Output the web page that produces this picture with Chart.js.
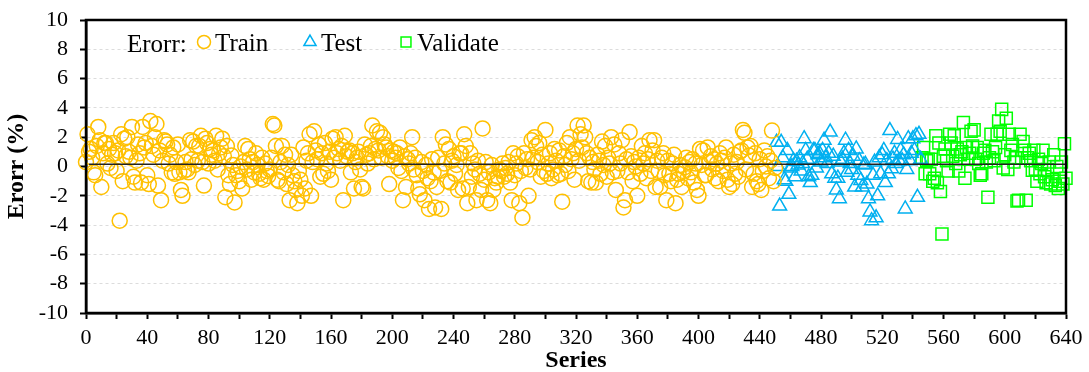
<!DOCTYPE html>
<html>
<head>
<meta charset="utf-8">
<script src="https://cdn.jsdelivr.net/npm/chart.js@4.4.1/dist/chart.umd.min.js"></script>
<style>
  html, body { margin: 0; padding: 0; background: #fff; }
  #errChart { display: block; width: 1089px; height: 372px; }
</style>
</head>
<body>
<canvas id="errChart" width="1089" height="372"></canvas>
<script>
// --- dados ---
const seriesNames = ['Train', 'Test', 'Validate'];
const seriesColors = ['#FFC000', '#00B0F0', '#00FF00'];
const seriesStart = [0, 451, 546];

const trainErr = [
  0.3, 2.2, 1.0, 1.2, 0.6, -0.4, -0.6, 1.4, 2.7, 1.8,
  -1.4, 0.9, 1.6, 1.6, 0.2, 1.2, -0.1, 0.8, 1.6, 0.9,
  -0.3, 1.1, -3.7, 2.2, -1.0, 1.9, 0.7, 2.0, 1.0, 0.6,
  2.7, -0.7, -1.1, 0.4, 1.5, 0.9, -1.1, 2.7, 1.3, 1.6,
  -0.6, -1.2, 3.1, 1.4, 0.8, 2.0, 2.9, -1.3, 1.1, -2.3,
  0.4, 1.8, 1.7, 1.5, 0.2, 0.8, -0.4, 1.3, -0.5, 0.3,
  1.5, -0.4, -1.6, -2.0, -0.3, 0.3, -0.2, -0.4, 1.8, 0.5,
  1.7, 0.1, 1.4, 0.4, 1.4, 2.1, 0.3, -1.3, 1.9, 1.6,
  0.2, 1.2, 0.8, 1.1, 0.4, 2.1, -0.2, 0.9, 1.3, 1.9,
  0.7, -2.1, 1.4, -0.6, -1.2, 0.75, 0.1, -2.45, -0.6, -0.3,
  -1.0, 0.0, -1.5, 0.3, 1.4, -0.2, 1.2, 0.5, -0.9, 0.3,
  -0.4, 0.9, 0.1, -0.5, -0.8, 0.6, -0.9, 0.2, -0.3, -0.65,
  -0.2, 0.6, 2.9, 2.8, 1.4, -0.9, -1.0, 0.3, 1.4, -0.4,
  0.8, -1.2, 0.1, -2.3, 0.8, -0.6, -1.0, -1.6, -2.5, -0.3,
  -0.9, -2.0, 1.3, -1.5, 0.4, 0.9, 2.2, -2.0, 0.3, 2.4,
  1.1, 0.5, 1.5, -0.7, 0.9, -0.5, 1.6, 0.2, -0.3, 1.0,
  -0.9, 1.9, 0.6, 2.0, 0.9, 1.2, 0.4, 1.4, -2.3, 2.1,
  0.7, 1.0, 1.1, -0.4, 0.9, -1.5, 0.3, 0.6, 1.0, -0.2,
  -1.4, -1.5, 1.5, 0.8, 0.2, 0.9, 1.4, 2.8, 0.5, 1.2,
  2.4, 1.1, 2.3, 0.6, 2.0, 1.5, 1.3, 0.7, -1.2, 1.1,
  0.4, 1.0, 0.6, 0.9, -0.1, 1.3, -0.3, -2.3, 0.7, -1.4,
  0.5, 0.2, 0.9, 2.0, -0.2, 0.6, -0.6, -1.5, -1.9, 0.3,
  -0.3, -2.3, 0.1, -0.8, -2.9, -1.0, 0.5, -0.4, -2.8, -1.4,
  0.6, -0.3, -2.9, 2.0, 0.2, 1.5, -1.0, 1.2, -1.1, 0.4,
  0.7, -0.5, 0.1, -1.6, 0.9, 0.9, -1.5, 2.2, 1.4, -2.5,
  -1.4, 0.9, -0.7, 0.2, -0.2, -2.3, 0.4, -0.5, -1.6, 2.6,
  -0.9, 0.3, -2.3, -0.4, -2.5, 0.1, -1.6, -0.8, -1.1, -0.7,
  -0.2, -0.3, 0.2, -0.7, -0.1, -0.5, 0.3, -1.1, -2.3, 0.9,
  -0.6, 0.2, 0.7, -2.5, -0.3, -3.5, 0.9, -0.1, 0.5, -2.0,
  -0.2, 1.8, 0.6, 2.0, 1.4, 0.3, 1.6, -0.7, 0.8, -0.3,
  2.5, -0.5, 0.2, 0.9, -0.8, -0.2, 1.2, 0.4, -0.6, 1.1,
  -0.5, -2.4, 0.7, 0.1, 1.6, -0.3, 2.0, 0.5, 0.9, -0.9,
  1.2, 2.8, 0.4, 2.2, 1.3, 2.8, 2.0, 0.9, -1.0, 0.6,
  -1.1, 0.3, -0.2, -1.1, 0.8, 0.4, -0.5, 1.7, 0.1, 1.4,
  -0.7, 0.6, 0.2, 2.0, -0.4, 1.5, -1.6, -0.3, 0.9, 0.2,
  1.8, -2.8, -2.3, 0.5, -0.4, 2.35, 0.7, -1.0, 0.3, 0.0,
  -2.0, 0.6, -0.5, 1.4, 0.2, 0.9, -0.8, 0.5, 1.8, -0.3,
  1.1, 1.8, -1.4, 0.4, -0.3, -1.4, 0.6, 0.9, -0.6, -2.3,
  0.4, -0.5, -1.0, 0.2, 0.8, -2.5, -0.9, -0.5, 0.1, -1.4,
  -0.3, -0.05, 0.6, -0.8, 0.3, -0.4, 0.5, -1.1, 0.2, -1.6,
  -2.0, 1.2, 0.1, 1.1, -0.6, -0.6, 1.3, 0.3, 0.7, -0.2,
  0.5, -0.8, 0.2, -1.0, 0.9, 0.4, -0.3, 0.6, 1.3, -0.9,
  -1.4, 0.2, -1.2, 0.8, -0.5, 0.3, -0.7, 1.0, 1.1, 2.5,
  2.3, -0.2, 1.3, 0.75, 1.4, -1.4, -0.5, 0.9, -1.0, -1.2,
  0.5, -1.6, -0.3, 1.1, 0.0, 0.7, -0.8, 0.4, 2.45, -1.0,
  -0.1
];

const testErr = [
  1.65, 0.0, -2.7, 1.65, 0.6, -0.9, -1.0, 1.1, -1.9, -0.1,
  0.0, 0.4, -0.7, 0.35, 0.1, 0.6, -0.3, 0.2, 1.9, 1.1,
  0.5, -0.7, -1.1, -0.6, 1.1, 1.1, -0.1, 0.8, 0.9, 0.3,
  1.1, 1.8, 0.6, 0.2, 0.9, 2.35, -0.5, 0.7, -0.8, -1.6,
  -0.8, -2.2, 0.3, 0.5, 0.9, 1.8, -0.4, 1.1, 0.2, -0.2,
  0.7, -1.4, 1.2, -0.6, 0.4, -0.95, -1.4, 0.1, 0.15, -1.2,
  -2.2, -3.1, -3.7, -0.6, 0.3, -3.5, -2.0, 0.6, -0.5, 0.8,
  1.1, -1.1, 0.4, -0.5, 2.45, -0.15, 0.5, 0.9, 0.2, 1.85,
  0.4, 1.1, 0.4, 0.8, -2.9, -0.2, 1.9, 0.4, 0.9, 1.9,
  1.1, 2.1, -2.1, 2.2, 0.5
];

const validateErr = [
  0.6, 1.3, -0.5, 0.4, 0.5, -0.5, 0.5, -1.0, -0.8, 2.1,
  -1.1, 1.6, -1.7, -4.6, 0.7, 1.2, 0.4, -0.3, 2.2, 1.6,
  0.7, 2.1, 0.2, 1.2, -0.3, 0.8, 1.0, 3.0, -0.8, 1.3,
  0.5, 0.9, 2.4, 1.4, 2.5, 0.5, 1.3, 0.2, -0.6, -0.5,
  0.9, 1.1, 0.3, -2.1, 0.6, 2.2, 1.0, 0.4, 1.3, 2.2,
  3.1, 2.4, 3.9, -0.1, 0.8, 3.3, -0.2, 2.2, 1.1, 1.5,
  0.3, 0.6, -2.35, -2.3, 2.2, 0.6, 1.7, 1.1, -2.3, 0.6,
  0.9, 0.4, -0.25, 1.1, -0.2, -1.0, 0.5, -0.5, 0.2, 1.1,
  -0.7, -1.1, -0.2, 0.3, -1.2, -0.9, 0.8, -1.3, 0.0, -1.5,
  -1.0, 0.3, -1.2, 1.55, -0.8
];

// linha de referência (erro médio)
const refLineX = [2, 640];
const refLineY = [0.15, 0.15];

const serif = "'Liberation Serif', 'Times New Roman', serif";

function toPoints(values, start) {
  return values.map((v, i) => ({ x: start + i, y: v }));
}

// legenda dentro da área + moldura preta em volta do gráfico
const overlayPlugin = {
  id: 'overlayBox',
  afterDraw(chart) {
    const { ctx } = chart;
    const xs = chart.scales.x;
    const ys = chart.scales.y;

    // moldura
    const l = xs.getPixelForValue(0);
    const r = xs.getPixelForValue(640);
    const t = ys.getPixelForValue(10);
    const b = ys.getPixelForValue(-10);
    ctx.save();
    ctx.setLineDash([]);
    ctx.globalAlpha = 1;
    ctx.strokeStyle = '#000000';
    ctx.lineWidth = 2.5;
    ctx.beginPath();
    ctx.moveTo(l, t);
    ctx.lineTo(r, t);
    ctx.lineTo(r, b);
    ctx.lineTo(l, b);
    ctx.closePath();
    ctx.stroke();
    ctx.restore();

    // legenda com prefixo "Erorr:"
    const y = 44;
    ctx.save();
    ctx.font = '25px ' + serif;
    ctx.fillStyle = '#000';
    ctx.textBaseline = 'middle';
    ctx.textAlign = 'left';
    ctx.fillText('Erorr:', 127, y + 1);
    const slots = [204, 310, 406];
    chart.data.datasets.slice(0, 3).forEach((ds, i) => {
      ctx.strokeStyle = ds.borderColor;
      ctx.fillStyle = 'rgba(0,0,0,0)';
      ctx.lineWidth = 1.5;
      Chart.helpers.drawPoint(ctx, {
        pointStyle: ds.pointStyle,
        radius: ds.pointStyle === 'circle' ? 6.5 : 7,
        rotation: 0,
        borderWidth: 1.5
      }, slots[i], y - 2);
      ctx.fillStyle = '#000';
      ctx.fillText(ds.label, slots[i] + 11, y);
    });
    ctx.restore();
  }
};

const styles = ['circle', 'triangle', 'rect'];
const radii = [7.5, 8, 8.5];
const allErr = [trainErr, testErr, validateErr];

const datasets = seriesNames.map((name, i) => ({
  type: 'scatter',
  label: name,
  data: toPoints(allErr[i], seriesStart[i]),
  pointStyle: styles[i],
  pointRadius: radii[i],
  pointBorderWidth: 1.5,
  borderColor: seriesColors[i],
  backgroundColor: 'rgba(0,0,0,0)',
  pointBackgroundColor: 'rgba(0,0,0,0)',
  clip: false,
  order: 2
}));

datasets.push({
  type: 'line',
  label: 'zero',
  data: refLineX.map((x, i) => ({ x: x, y: refLineY[i] })),
  borderColor: '#222',
  borderWidth: 1.5,
  pointRadius: 0,
  order: 0
});

new Chart(document.getElementById('errChart'), {
  data: { datasets: datasets },
  options: {
    responsive: false,
    devicePixelRatio: 1,
    animation: false,
    layout: { padding: { left: 0, right: 23, top: 20, bottom: 0 } },
    plugins: {
      legend: { display: false },
      tooltip: { enabled: false }
    },
    scales: {
      x: {
        type: 'linear',
        min: 0,
        max: 640,
        afterFit(s) {
          s.height = 59;
          s.paddingLeft = 0;
          s.paddingRight = 0;
        },
        ticks: {
          stepSize: 20,
          autoSkip: false,
          maxRotation: 0,
          padding: 6,
          color: '#000',
          font: { family: serif, size: 22 },
          callback: v => (v % 40 === 0 ? v : '')
        },
        grid: {
          drawOnChartArea: false,
          tickLength: 6,
          tickColor: '#000',
          tickWidth: 2
        },
        border: { display: true, color: '#000', width: 2.5 },
        title: {
          display: true,
          text: 'Series',
          color: '#000',
          padding: { top: 1, bottom: -3.5 },
          font: { family: serif, size: 24, weight: 'bold' }
        }
      },
      y: {
        min: -10,
        max: 10,
        afterFit(s) {
          s.width = 86;
          s.paddingTop = 0;
          s.paddingBottom = 0;
        },
        ticks: {
          stepSize: 2,
          autoSkip: false,
          padding: 12,
          color: '#000',
          font: { family: serif, size: 22 }
        },
        grid: {
          color: '#dcdcdc',
          lineWidth: 1,
          tickLength: 6,
          tickColor: '#000',
          tickWidth: 2
        },
        border: { display: true, color: '#000', width: 2.5, dash: [3, 3] },
        title: {
          display: true,
          text: 'Erorr (%)',
          color: '#000',
          padding: { top: 2, bottom: 0 },
          font: { family: serif, size: 24, weight: 'bold' }
        }
      }
    }
  },
  plugins: [overlayPlugin]
});
</script>
</body>
</html>
